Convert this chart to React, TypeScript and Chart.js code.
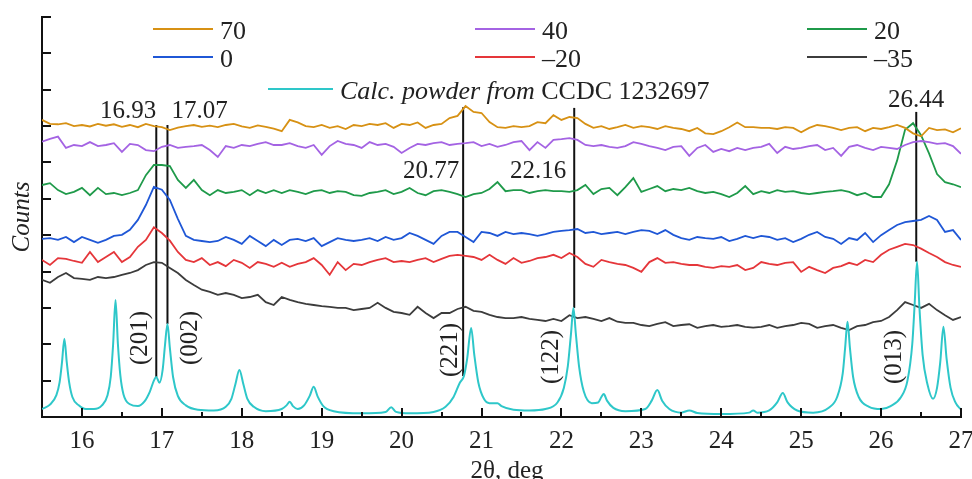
import React, { useEffect, useRef } from 'react';
import { Chart, registerables } from 'chart.js';

Chart.register(...registerables);

const FONT = '"Liberation Serif", "Times New Roman", serif';

// 2θ sampling of the measured patterns
const angles = [
  15.5, 15.6, 15.7, 15.8, 15.9, 16.0, 16.1, 16.2, 16.3, 16.4,
  16.5, 16.6, 16.7, 16.8, 16.9, 17.0, 17.1, 17.2, 17.3, 17.4,
  17.5, 17.6, 17.7, 17.8, 17.9, 18.0, 18.1, 18.2, 18.3, 18.4,
  18.5, 18.6, 18.7, 18.8, 18.9, 19.0, 19.1, 19.2, 19.3, 19.4,
  19.5, 19.6, 19.7, 19.8, 19.9, 20.0, 20.1, 20.2, 20.3, 20.4,
  20.5, 20.6, 20.7, 20.8, 20.9, 21.0, 21.1, 21.2, 21.3, 21.4,
  21.5, 21.6, 21.7, 21.8, 21.9, 22.0, 22.1, 22.2, 22.3, 22.4,
  22.5, 22.6, 22.7, 22.8, 22.9, 23.0, 23.1, 23.2, 23.3, 23.4,
  23.5, 23.6, 23.7, 23.8, 23.9, 24.0, 24.1, 24.2, 24.3, 24.4,
  24.5, 24.6, 24.7, 24.8, 24.9, 25.0, 25.1, 25.2, 25.3, 25.4,
  25.5, 25.6, 25.7, 25.8, 25.9, 26.0, 26.1, 26.2, 26.3, 26.4,
  26.5, 26.6, 26.7, 26.8, 26.9, 27.0,
];

const counts70 = [
  817, 806, 805, 808, 800, 803, 799, 806, 801, 805,
  798, 803, 797, 806, 800, 797, 789, 796, 800, 803,
  798, 801, 797, 803, 806, 799, 795, 802, 798, 793,
  786, 817, 810, 800, 797, 803, 795, 800, 792, 803,
  800, 806, 803, 808, 795, 806, 803, 810, 795, 803,
  806, 822, 828, 855, 839, 836, 811, 797, 795, 800,
  797, 800, 811, 808, 830, 817, 825, 822, 806, 795,
  800, 792, 797, 803, 795, 800, 797, 792, 800, 795,
  792, 786, 795, 780, 778, 786, 797, 810, 797, 797,
  795, 795, 792, 797, 795, 783, 795, 803, 800, 795,
  789, 795, 797, 786, 795, 792, 797, 803, 795, 780,
  772, 795, 789, 791, 783, 794,
];

const counts40 = [
  757, 765, 771, 740, 748, 745, 756, 745, 748, 753,
  729, 751, 748, 734, 731, 743, 748, 740, 743, 745,
  748, 734, 715, 745, 740, 748, 745, 751, 756, 748,
  748, 753, 745, 740, 748, 721, 745, 759, 751, 748,
  740, 756, 748, 751, 743, 726, 740, 751, 748, 753,
  756, 748, 751, 753, 756, 745, 751, 743, 748, 756,
  759, 734, 756, 740, 762, 764, 767, 762, 748, 745,
  748, 743, 740, 745, 756, 751, 745, 740, 734, 743,
  745, 718, 740, 748, 729, 737, 731, 740, 734, 740,
  743, 751, 726, 743, 737, 740, 745, 748, 734, 740,
  718, 743, 748, 740, 734, 743, 740, 737, 748, 756,
  759, 756, 751, 753, 745, 724,
];

const counts20 = [
  638, 643, 624, 613, 619, 630, 610, 630, 613, 616,
  610, 616, 624, 665, 693, 693, 690, 652, 630, 652,
  624, 610, 624, 616, 619, 624, 610, 624, 616, 624,
  616, 624, 619, 613, 621, 624, 616, 621, 619, 610,
  608, 616, 619, 624, 613, 619, 630, 616, 610, 621,
  624, 619, 613, 605, 613, 616, 627, 646, 621, 624,
  624, 616, 621, 624, 621, 621, 619, 624, 638, 613,
  627, 630, 610, 632, 657, 619, 627, 635, 621, 627,
  624, 630, 621, 616, 619, 613, 605, 616, 635, 613,
  621, 616, 624, 619, 621, 616, 613, 616, 619, 621,
  624, 619, 610, 616, 605, 605, 640, 705, 790, 808,
  775, 725, 668, 646, 640, 632,
];

const counts0 = [
  490, 492, 487, 495, 481, 495, 487, 479, 487, 498,
  501, 515, 542, 583, 633, 625, 597, 545, 498, 487,
  484, 481, 484, 495, 487, 476, 498, 484, 470, 487,
  473, 487, 490, 484, 492, 470, 481, 492, 487, 484,
  487, 492, 484, 495, 487, 492, 506, 498, 487, 476,
  498, 509, 509, 495, 481, 509, 506, 498, 509, 503,
  506, 503, 498, 503, 509, 512, 514, 517, 506, 509,
  503, 506, 509, 503, 509, 514, 512, 503, 514, 501,
  492, 487, 495, 492, 490, 495, 484, 490, 498, 492,
  498, 495, 487, 492, 481, 490, 501, 509, 495, 490,
  476, 492, 487, 506, 481, 500, 514, 528, 536, 539,
  542, 553, 542, 509, 514, 487,
];

const countsM20 = [
  432, 418, 437, 435, 429, 424, 454, 426, 440, 454,
  426, 440, 468, 487, 522, 506, 485, 454, 432, 426,
  437, 418, 426, 415, 432, 424, 410, 426, 421, 413,
  424, 413, 421, 426, 437, 418, 391, 426, 404, 421,
  418, 426, 432, 437, 426, 429, 426, 432, 437, 426,
  435, 443, 446, 443, 440, 432, 446, 432, 421, 437,
  424, 429, 437, 440, 446, 437, 451, 440, 421, 413,
  432, 426, 421, 418, 410, 399, 426, 437, 424, 426,
  421, 418, 418, 413, 410, 415, 413, 418, 404, 410,
  426, 421, 418, 424, 426, 399, 413, 404, 396, 410,
  415, 424, 418, 432, 426, 446, 460, 468, 476, 473,
  463, 451, 440, 426, 418, 413,
];

const countsM35 = [
  377, 369, 385, 396, 382, 380, 377, 385, 382, 385,
  391, 396, 404, 418, 426, 424, 410, 396, 377, 363,
  350, 344, 336, 341, 336, 327, 330, 336, 316, 308,
  330, 322, 316, 311, 308, 305, 303, 300, 300, 294,
  297, 300, 314, 300, 289, 286, 281, 303, 286, 272,
  286, 286, 297, 303, 292, 289, 281, 275, 272, 272,
  275, 270, 267, 264, 270, 264, 280, 272, 275, 270,
  264, 272, 262, 259, 259, 253, 250, 256, 261, 250,
  253, 255, 245, 250, 253, 248, 250, 253, 248, 246,
  248, 253, 245, 250, 253, 259, 256, 245, 250, 253,
  245, 239, 250, 253, 261, 264, 275, 294, 316, 308,
  300, 311, 294, 280, 267, 275,
];

// calculated powder pattern (CCDC 1232697)
const calcAngles = [
  15.5, 15.6, 15.68, 15.72, 15.75, 15.78, 15.81, 15.84, 15.88, 15.96,
  16.05, 16.15, 16.25, 16.32, 16.36, 16.39, 16.42, 16.45, 16.48, 16.52,
  16.6, 16.7, 16.78, 16.85, 16.9, 16.93, 16.97, 17.01, 17.04, 17.07,
  17.1, 17.14, 17.2, 17.3, 17.45, 17.65, 17.8, 17.87, 17.92, 17.97,
  18.02, 18.07, 18.15, 18.3, 18.5, 18.56, 18.6, 18.64, 18.7, 18.78,
  18.85, 18.9, 18.95, 19.02, 19.15, 19.5, 19.8, 19.87, 19.93, 20.1,
  20.4, 20.55, 20.65, 20.73, 20.78, 20.82, 20.87, 20.91, 20.96, 21.03,
  21.1, 21.16, 21.2, 21.25, 21.4, 21.6, 21.8, 21.95, 22.03, 22.08,
  22.12, 22.15, 22.18, 22.22, 22.28, 22.38, 22.46, 22.5, 22.53, 22.57,
  22.65, 22.8, 23.05, 23.13, 23.2, 23.26, 23.35, 23.5, 23.6, 23.7,
  24.0, 24.35, 24.4, 24.45, 24.6, 24.7, 24.77, 24.83, 24.95, 25.15,
  25.35, 25.45, 25.52, 25.55, 25.58, 25.61, 25.65, 25.72, 25.85, 26.0,
  26.12, 26.25, 26.33, 26.39, 26.42, 26.45, 26.48, 26.52, 26.58, 26.65,
  26.7, 26.74, 26.78, 26.82, 26.87, 26.93, 27.0,
];
const calcCounts = [
  22, 34, 60, 95, 150, 215, 150, 95, 55, 32,
  22, 22, 32, 60, 110, 200, 322, 200, 115, 62,
  35, 30, 42, 70, 100, 110, 94, 130, 200, 256,
  190, 110, 58, 32, 20, 18, 28, 50, 90, 129,
  90, 50, 28, 16, 22, 32, 42, 30, 22, 32,
  58, 83, 56, 30, 16, 10, 14, 27, 14, 10,
  14, 28, 55, 95, 113, 160, 245, 170, 95, 50,
  38, 38, 38, 30, 20, 18, 22, 40, 80, 140,
  230, 300, 230, 140, 70, 38, 40, 55, 63, 45,
  25, 16, 22, 45, 74, 45, 22, 12, 18, 11,
  8, 12, 18, 12, 18, 40, 66, 40, 18, 12,
  26, 55, 120, 190, 262, 190, 110, 55, 28, 22,
  30, 55, 100, 200, 310, 427, 300, 170, 90, 50,
  80, 150, 248, 160, 80, 40, 20,
];

const seriesLabels = ['70', '40', '20', '0', '\u201320', '\u201335'];
const seriesColors = ['#D79114', '#A463E3', '#1F9A4A', '#1F57D6', '#E5363A', '#3C3C3C'];
const seriesCounts = [counts70, counts40, counts20, counts0, countsM20, countsM35];
const calcLabelItalic = 'Calc. powder from';
const calcLabelPlain = ' CCDC 1232697';
const calcColor = '#2EC7C9';

// peak markers
const peakAngles = [16.93, 17.07, 20.77, 22.16, 26.44];
const peakLineTop = [803, 803, 852, 850, 839];
const peakLineBottom = [110, 256, 113, 300, 427];
const peakHkl = ['(201)', '(002)', '(221)', '(122)', '(013)'];

const yTickStep = 100;

function isInt(v: number) {
  return Math.abs(v - Math.round(v)) < 1e-6;
}

const overlayPlugin = {
  id: 'overlay',
  afterDraw(chart: any) {
    const { ctx, chartArea } = chart;
    const x = chart.scales.x;
    const y = chart.scales.y;
    ctx.save();

    // inward tick marks
    ctx.strokeStyle = '#111';
    ctx.lineWidth = 2;
    x.ticks.forEach((t: any) => {
      const px = Math.round(x.getPixelForValue(t.value));
      const len = isInt(t.value) ? 9 : 5;
      ctx.beginPath();
      ctx.moveTo(px, chartArea.bottom);
      ctx.lineTo(px, chartArea.bottom - len);
      ctx.stroke();
    });
    y.ticks.forEach((t: any) => {
      const py = Math.round(y.getPixelForValue(t.value));
      ctx.beginPath();
      ctx.moveTo(chartArea.left, py);
      ctx.lineTo(chartArea.left + 9, py);
      ctx.stroke();
    });

    // peak position labels
    ctx.fillStyle = '#222';
    ctx.font = `25px ${FONT}`;
    ctx.textBaseline = 'alphabetic';
    const labelLayout = [
      { align: 'right', dx: 0, dy: -7, mid: false },
      { align: 'left', dx: 4, dy: -7, mid: false },
      { align: 'right', dx: -4, dy: 178, mid: true },
      { align: 'right', dx: -8, dy: 178, mid: true },
      { align: 'center', dx: 0, dy: -5, mid: false },
    ];
    peakAngles.forEach((a, i) => {
      const L = labelLayout[i];
      const px = x.getPixelForValue(a) + L.dx;
      const py = L.mid ? L.dy : y.getPixelForValue(peakLineTop[i]) + L.dy;
      ctx.textAlign = L.align;
      ctx.fillText(a.toFixed(2), px, py);
    });

    // Miller indices, rotated
    const hklLayout = [
      { dx: -17, cy: 338 },
      { dx: 22, cy: 338 },
      { dx: -14, cy: 350 },
      { dx: -24, cy: 357 },
      { dx: -23, cy: 357 },
    ];
    peakAngles.forEach((a, i) => {
      const px = x.getPixelForValue(a) + hklLayout[i].dx;
      ctx.save();
      ctx.translate(px, hklLayout[i].cy);
      ctx.rotate(-Math.PI / 2);
      ctx.textAlign = 'center';
      ctx.textBaseline = 'middle';
      ctx.fillText(peakHkl[i], 0, 1);
      ctx.restore();
    });

    // legend
    const cols = [153, 475, 807];
    const rows = [29, 57];
    ctx.lineWidth = 2;
    ctx.textAlign = 'left';
    ctx.textBaseline = 'alphabetic';
    seriesLabels.forEach((lab, i) => {
      const cx = cols[i % 3];
      const ry = rows[Math.floor(i / 3)];
      ctx.strokeStyle = seriesColors[i];
      ctx.beginPath();
      ctx.moveTo(cx, ry);
      ctx.lineTo(cx + 60, ry);
      ctx.stroke();
      ctx.fillStyle = '#222';
      ctx.font = `26px ${FONT}`;
      ctx.fillText(lab, cx + 67, ry + 10);
    });
    {
      const lx = 268;
      const ry = 89;
      ctx.strokeStyle = calcColor;
      ctx.beginPath();
      ctx.moveTo(lx, ry);
      ctx.lineTo(lx + 65, ry);
      ctx.stroke();
      ctx.fillStyle = '#222';
      ctx.font = `italic 26px ${FONT}`;
      ctx.fillText(calcLabelItalic, lx + 72, ry + 10);
      const w = ctx.measureText(calcLabelItalic).width;
      ctx.font = `26px ${FONT}`;
      ctx.fillText(calcLabelPlain, lx + 72 + w, ry + 10);
    }

    // axis titles
    ctx.fillStyle = '#222';
    ctx.font = `25px ${FONT}`;
    ctx.textAlign = 'center';
    ctx.textBaseline = 'alphabetic';
    ctx.fillText('2\u03b8, deg', 507, 478);
    ctx.save();
    ctx.translate(22, (chartArea.top + chartArea.bottom) / 2);
    ctx.rotate(-Math.PI / 2);
    ctx.font = `italic 25px ${FONT}`;
    ctx.textBaseline = 'middle';
    ctx.fillText('Counts', 0, 0);
    ctx.restore();

    ctx.restore();
  },
};

export default function App() {
  const ref = useRef<HTMLCanvasElement | null>(null);

  useEffect(() => {
    document.body.style.margin = '0';
    const canvas = ref.current;
    if (!canvas) return;

    const datasets: any[] = [];
    datasets.push({
      label: 'calc',
      data: calcAngles.map((a, i) => ({ x: a, y: calcCounts[i] })),
      borderColor: calcColor,
      borderWidth: 2,
      pointRadius: 0,
      cubicInterpolationMode: 'monotone',
      fill: false,
    });
    seriesCounts.forEach((vals, s) => {
      datasets.push({
        label: seriesLabels[s],
        data: angles.map((a, i) => ({ x: a, y: vals[i] })),
        borderColor: seriesColors[s],
        borderWidth: 1.8,
        pointRadius: 0,
        tension: 0,
        fill: false,
      });
    });
    peakAngles.forEach((a, i) => {
      datasets.push({
        label: 'peak' + i,
        data: [
          { x: a, y: peakLineBottom[i] },
          { x: a, y: peakLineTop[i] },
        ],
        borderColor: '#111',
        borderWidth: 2,
        pointRadius: 0,
        fill: false,
      });
    });

    const chart = new Chart(canvas, {
      type: 'line',
      data: { datasets },
      options: {
        animation: false,
        responsive: false,
        devicePixelRatio: 1,
        layout: { padding: { top: 17, right: 11, left: 0, bottom: 0 } },
        plugins: {
          legend: { display: false },
          tooltip: { enabled: false },
        },
        scales: {
          x: {
            type: 'linear',
            min: 15.5,
            max: 27,
            border: { display: true, color: '#111', width: 2 },
            grid: { display: false, drawTicks: false },
            ticks: {
              stepSize: 0.5,
              autoSkip: false,
              maxRotation: 0,
              padding: 9,
              color: '#222',
              font: { family: FONT, size: 25 },
              callback: (v: any) => (isInt(Number(v)) ? String(Math.round(Number(v))) : ''),
            },
            afterFit: (s: any) => {
              s.height = 62;
              s.paddingLeft = 0;
              s.paddingRight = 0;
            },
          },
          y: {
            type: 'linear',
            min: 0,
            max: 1100,
            border: { display: true, color: '#111', width: 2 },
            grid: { display: false, drawTicks: false },
            ticks: { stepSize: yTickStep, display: false },
            afterFit: (s: any) => {
              s.width = 42;
              s.paddingTop = 0;
              s.paddingBottom = 0;
            },
          },
        },
      },
      plugins: [overlayPlugin],
    } as any);

    return () => chart.destroy();
  }, []);

  return (
    <div style={{ width: 972, height: 479, position: 'relative', overflow: 'hidden', background: '#fff' }}>
      <canvas ref={ref} width={972} height={479} style={{ display: 'block', width: 972, height: 479 }} />
    </div>
  );
}
